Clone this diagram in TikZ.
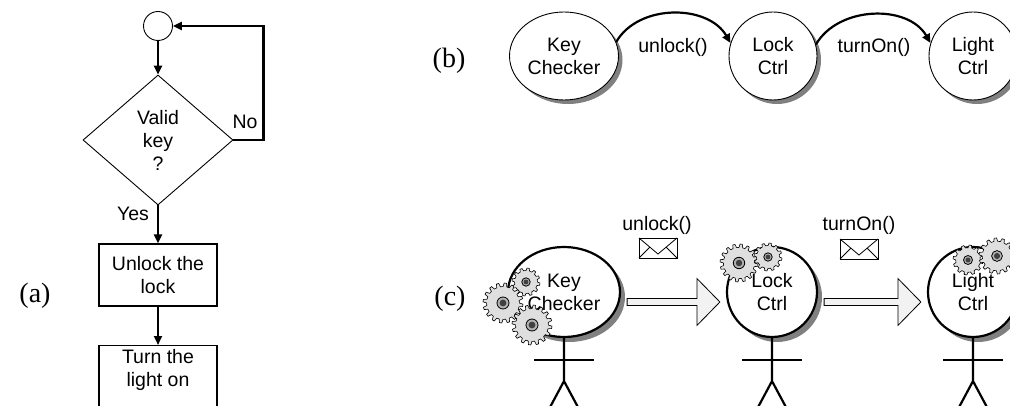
\documentclass[tikz,border=0pt]{standalone}
\usepackage{fontspec}
\setmainfont{Liberation Sans}
\newfontfamily\tagfont{Liberation Serif}
\usetikzlibrary{shapes.geometric,arrows.meta,calc,shadows}
\tikzset{
  pics/gear/.style 2 args={code={
    \filldraw[gearbody] (0:{0.82*#1})
      \foreach \k in {1,...,#2}{
        -- ({(\k-0.85)*360/#2}:#1) -- ({(\k-0.55)*360/#2}:#1)
        -- ({(\k-0.4)*360/#2}:{0.82*#1}) -- ({\k*360/#2}:{0.82*#1})
      } -- cycle;
    \filldraw[gearhub] (0,0) circle[radius={0.3*#1}];
    \fill[black!75] (0,0) circle[radius={0.17*#1}];
  }},
  pics/envelope/.style={code={
    \draw[fill=white,line width=0.8pt] (-19,-10) rectangle (19,10);
    \draw[line width=0.8pt] (-19,-10) -- (0,6) -- (19,-10)
      (-19,10) -- (-8,-1) (19,10) -- (8,-1);
  }}
}
\newcommand{\fatarrow}[2]{%
  \draw[fat] ($(#1.east)+(6,6.5)$) -- ($(#2.west)+(-29,6.5)$) -- ++(0,-20)
    -- ($(#2.west)+(-6,10)$) -- ($(#2.west)+(-29,33.5)$) -- ++(0,-20)
    -- ($(#1.east)+(6,13.5)$) -- cycle;}
\begin{document}
\begin{tikzpicture}[x=1pt,y=-1pt,
  >={Triangle[length=9pt,width=8pt]},
  every node/.style={font=\fontsize{19.5}{23}\selectfont},
  tag/.style={font=\tagfont\fontsize{28}{30}\selectfont},
  flow/.style={line width=2.2pt},
  startc/.style={circle,draw,line width=0.9pt,minimum size=29pt,inner sep=0pt},
  decision/.style={diamond,draw,line width=0.9pt,minimum width=150pt,minimum height=130pt,inner sep=0pt,align=center},
  process/.style={rectangle,draw,line width=1.2pt,minimum width=118pt,minimum height=62pt,align=center},
  agent/.style={ellipse,draw,line width=0.9pt,fill=white,minimum size=88pt,inner sep=0pt,align=center,
    drop shadow={shadow xshift=4pt,shadow yshift=-4pt,fill=black!50,opacity=1}},
  head/.style={ellipse,draw,line width=2.2pt,fill=white,minimum size=90pt,inner sep=0pt,align=center,
    drop shadow={shadow xshift=5pt,shadow yshift=-5pt,fill=black!50,opacity=1}},
  limb/.style={line width=2.2pt},
  fat/.style={draw,line width=0.8pt,fill=gray!10},
  gearbody/.style={fill=gray!25,line width=0.6pt},
  gearhub/.style={fill=gray!60,line width=0.8pt}]
\useasboundingbox (0,0) rectangle (1010,406);
\clip (0,0) rectangle (1010,406);

\node[tag] (taga) at (35,296) {(a)};
\node[startc] (start) at (158,26) {};
\node[decision] (valid) at (158,140) {Valid\\key\\?};
\node[process] (unlock) at (158,275) {Unlock the\\lock};
\node[process,anchor=north,text height=15pt,text depth=50pt] (turn) at (158,345)
  {\begin{tabular}[t]{@{}c@{}}Turn the\\light on\end{tabular}};
\node (yes) at (133,214) {Yes};
\node (no) at (245,122) {No};
\draw[flow,->] (start) -- (valid);
\draw[flow,->] (valid) -- (unlock);
\draw[flow,->] (valid.east) -- ++(30,0) |- (start.east);
\draw[flow,->] (unlock) -- (turn);

\node[tag] (tagb) at (449,61) {(b)};
\node[agent,minimum width=109pt] (kcb) at (564,56) {Key\\Checker};
\node[agent] (lcb) at (773,56) {Lock\\Ctrl};
\node[agent] (ltb) at (973,56) {Light\\Ctrl};
\draw[flow,->] (kcb.15) to[out=60,in=120] (lcb.163);
\draw[flow,->] (lcb.15) to[out=60,in=120] (ltb.163);
\node (unlockb) at (673,47) {unlock()};
\node (turnonb) at (874,47) {turnOn()};

\node[tag] (tagc) at (450,299) {(c)};
\node[head,minimum width=112pt] (kc) at (564,292) {Key\\Checker};
\node[head] (lc) at (772,292) {Lock\\Ctrl};
\node[head] (lt) at (973,292) {Light\\Ctrl};
\foreach \n in {kc,lc,lt}{
  \draw[limb] (\n.south) -- ++(0,43) -- ++(-15,28) ++(15,-28) -- ++(15,28);
  \draw[limb] ($(\n.south)+(-30,22)$) -- ++(60,0);
}
\pic at (526,282) {gear={14}{12}};
\pic at (503,303) {gear={20}{16}};
\pic at (532,325) {gear={20}{16}};
\pic at (739,263) {gear={19}{16}};
\pic at (768,257) {gear={14}{12}};
\pic at (968,260) {gear={15}{12}};
\pic at (997,256) {gear={18}{14}};
\fatarrow{kc}{lc}
\fatarrow{lc}{lt}
\node (unlockc) at (657,225) {unlock()};
\node (turnonc) at (859,225) {turnOn()};
\pic at (658,248) {envelope};
\pic at (859,249) {envelope};
\end{tikzpicture}
\end{document}
